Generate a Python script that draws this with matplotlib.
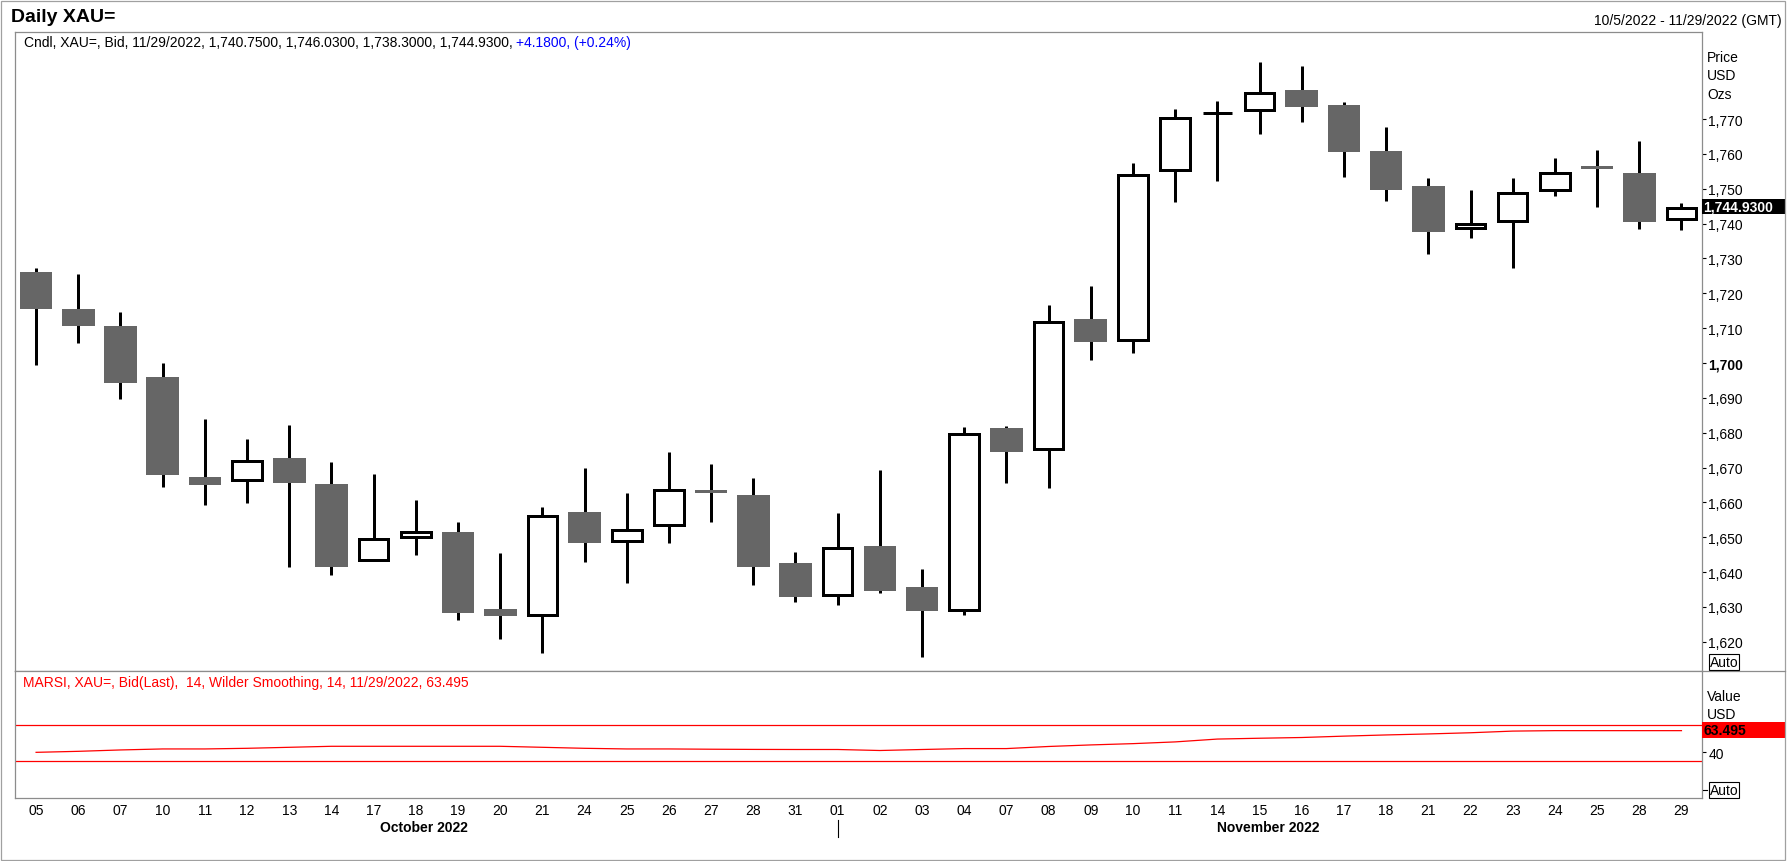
import matplotlib
matplotlib.use("Agg")
import matplotlib.pyplot as plt
import matplotlib.transforms as mtransforms
from matplotlib.patches import Rectangle
from matplotlib.lines import Line2D

plt.rcParams['font.family'] = ['Liberation Sans', 'DejaVu Sans']

# daily XAU= candles, 10/5/2022 - 11/29/2022
day_labels = ['05', '06', '07', '10', '11', '12', '13', '14', '17', '18',
              '19', '20', '21', '24', '25', '26', '27', '28', '31', '01',
              '02', '03', '04', '07', '08', '09', '10', '11', '14', '15',
              '16', '17', '18', '21', '22', '23', '24', '25', '28', '29']
months = ['October 2022'] * 19 + ['November 2022'] * 21
opens = [1726.0, 1715.6, 1710.7, 1695.9, 1667.2, 1666.1, 1672.7, 1665.3, 1643.1, 1649.5,
         1651.5, 1629.4, 1627.2, 1657.1, 1648.6, 1653.0, 1663.6, 1662.1, 1642.6, 1633.1,
         1647.5, 1635.7, 1628.6, 1681.3, 1674.8, 1712.6, 1706.3, 1754.9, 1771.3, 1772.2,
         1778.3, 1774.0, 1760.8, 1750.8, 1738.2, 1740.3, 1749.2, 1756.4, 1754.5, 1740.75]
highs = [1727.4, 1725.4, 1714.5, 1699.9, 1683.8, 1678.1, 1682.1, 1671.5, 1668.1, 1660.7,
         1654.3, 1645.5, 1658.6, 1670.0, 1662.6, 1674.6, 1671.0, 1666.9, 1645.7, 1656.9,
         1669.3, 1640.8, 1681.7, 1681.9, 1716.7, 1722.2, 1757.3, 1772.8, 1775.1, 1786.3,
         1785.2, 1774.8, 1767.6, 1753.0, 1749.6, 1753.2, 1758.7, 1761.2, 1763.6, 1746.03]
lows = [1699.5, 1705.8, 1689.7, 1664.5, 1659.3, 1659.9, 1641.5, 1639.2, 1643.1, 1645.0,
        1626.2, 1620.9, 1616.8, 1643.0, 1636.9, 1648.4, 1654.4, 1636.4, 1631.5, 1630.6,
        1633.9, 1615.5, 1627.6, 1665.6, 1664.0, 1700.9, 1702.8, 1746.3, 1752.3, 1765.8,
        1769.2, 1753.5, 1746.4, 1731.2, 1735.9, 1727.4, 1748.0, 1744.9, 1738.4, 1738.30]
closes = [1715.6, 1710.7, 1694.3, 1667.9, 1665.1, 1672.2, 1665.6, 1641.5, 1650.0, 1652.0,
          1628.3, 1627.5, 1656.4, 1648.4, 1652.4, 1664.1, 1662.8, 1641.5, 1632.9, 1647.3,
          1634.6, 1628.9, 1680.0, 1674.4, 1712.3, 1706.1, 1754.5, 1770.7, 1771.7, 1777.9,
          1773.5, 1760.6, 1749.7, 1737.6, 1740.4, 1749.1, 1755.0, 1755.6, 1740.5, 1744.93]
rsi = [39.8, 40.9, 42.4, 43.5, 43.5, 44.2, 45.3, 46.4, 46.4, 46.4,
       46.4, 46.4, 45.3, 44.2, 43.5, 43.5, 43.2, 43.0, 42.9, 42.9,
       41.8, 42.9, 43.9, 43.9, 46.2, 47.9, 49.3, 51.2, 54.3, 55.2,
       56.0, 57.5, 58.8, 59.9, 61.2, 63.0, 63.5, 63.5, 63.5, 63.495]
rsi_levels = [70, 30]
price_ticks = list(range(1620, 1771, 10))
rsi_ticks = [40]

W, H, DPI = 1788, 862, 100
fig = plt.figure(figsize=(W / DPI, H / DPI), dpi=DPI)
fig.patch.set_facecolor('white')


def fx(px):
    return px / W


def fy(py):
    return 1 - py / H


FRAME = '#8c8c8c'
GRAY = '#666666'
LEFT, RIGHT = 15.0, 1701.7
TOP, MID, BOT = 33.3, 671.7, 799.0
PRICE_LIM = (1611.7, 1794.9)
RSI_LIM = (-10.1, 129.0)
XLIM = (-0.5, 39.48)
LW = 2.16  # 3 px

ax = fig.add_axes([fx(LEFT), fy(MID), fx(RIGHT) - fx(LEFT), (MID - TOP) / H])
ax2 = fig.add_axes([fx(LEFT), fy(BOT), fx(RIGHT) - fx(LEFT), (BOT - MID) / H])

# candles
x = list(range(len(opens)))
half = 1.5 * (PRICE_LIM[1] - PRICE_LIM[0]) / (MID - TOP)
ax.vlines(x, lows, highs, color='black', lw=LW, zorder=2)
for i, (o, c) in enumerate(zip(opens, closes)):
    if c > o:
        b = o + half
        t = max(c - half, b)
        ax.bar(i, t - b, width=0.70, bottom=b, facecolor='white',
               edgecolor='black', lw=LW, zorder=3)
    else:
        ax.bar(i, o - c, width=0.775, bottom=c, color=GRAY, lw=0, zorder=3)

ax.set_xlim(*XLIM)
ax.set_ylim(*PRICE_LIM)
ax.set_xticks([])
ax.yaxis.tick_right()
ax.set_yticks(price_ticks)
ax.set_yticklabels([f'{v:,}' for v in price_ticks])
ax.tick_params(axis='y', length=2.9, width=0.8, pad=1.9, labelsize=10,
               colors='black')
for lab in ax.get_yticklabels():
    if lab.get_text() == '1,700':
        lab.set_fontweight('bold')
for s in ax.spines.values():
    s.set_color(FRAME)
    s.set_linewidth(0.9)

# header text inside price panel
t1 = ax.text((23.7 - LEFT) / (RIGHT - LEFT), 1 - (42.7 - TOP) / (MID - TOP),
             f'Cndl, XAU=, Bid, 11/29/2022, {opens[-1]:,.4f}, {highs[-1]:,.4f}, '
             f'{lows[-1]:,.4f}, {closes[-1]:,.4f}, ',
             transform=ax.transAxes, fontsize=10, va='center', ha='left')
ax.annotate('+4.1800, (+0.24%)', xy=(1, 0), xycoords=t1, va='bottom', ha='left',
            fontsize=10, color='#0000ff')

# last price tag
blend = mtransforms.blended_transform_factory(ax.transAxes, ax.transData)
tag_w = (1785 - LEFT) / (RIGHT - LEFT) - 1
ax.add_patch(Rectangle((1.0, closes[-1] - 2.15), tag_w, 4.3, transform=blend,
                       facecolor='black', edgecolor='none', clip_on=False, zorder=5))
ax.text(1.0 + 1.5 / (RIGHT - LEFT), closes[-1], f'{closes[-1]:,.4f}', transform=blend,
        color='white', fontsize=10, fontweight='bold', va='center', ha='left',
        zorder=6, clip_on=False)

# RSI panel
ax2.plot(x, rsi, color='red', lw=0.9)
for lv in rsi_levels:
    ax2.axhline(lv, color='red', lw=0.9)
ax2.set_xlim(*XLIM)
ax2.set_ylim(*RSI_LIM)
ax2.yaxis.tick_right()
ax2.set_yticks(rsi_ticks)
ax2.set_yticklabels([str(v) for v in rsi_ticks])
ax2.tick_params(axis='y', length=2.9, width=0.8, pad=1.9, labelsize=10,
                colors='black')
ax2.set_xticks(x)
ax2.set_xticklabels(day_labels)
ax2.tick_params(axis='x', length=0, pad=3.6, labelsize=10, colors='black')
for s in ax2.spines.values():
    s.set_color(FRAME)
    s.set_linewidth(0.9)
ax2.text((23.2 - LEFT) / (RIGHT - LEFT), 1 - (682.7 - MID) / (BOT - MID),
         f'MARSI, XAU=, Bid(Last),  14, Wilder Smoothing, 14, 11/29/2022, {rsi[-1]:.3f}',
         transform=ax2.transAxes, color='red', fontsize=10, va='center', ha='left')

rblend = mtransforms.blended_transform_factory(ax2.transAxes, ax2.transData)
ax2.add_patch(Rectangle((1.0, rsi[-1] + 1.0 - 8.7), tag_w, 17.4, transform=rblend,
                        facecolor='red', edgecolor='none', clip_on=False, zorder=5))
ax2.text(1.0 + 1.5 / (RIGHT - LEFT), rsi[-1] + 0.8, f'{rsi[-1]:.3f}', transform=rblend,
         color='black', fontsize=10, fontweight='bold', va='center', ha='left',
         zorder=6, clip_on=False)

# month labels and separator mark
xblend = mtransforms.blended_transform_factory(ax2.transData, ax2.transAxes)
for m in dict.fromkeys(months):
    idx = [i for i, mm in enumerate(months) if mm == m]
    ax2.text(sum(idx) / len(idx) + 0.2, -(828.3 - BOT) / (BOT - MID), m,
             transform=xblend, ha='center', va='center', fontsize=10,
             fontweight='bold')
first_nov = months.index('November 2022')
ax2.add_line(Line2D([first_nov, first_nov],
                    [-(821 - BOT) / (BOT - MID), -(838 - BOT) / (BOT - MID)],
                    transform=xblend, color='black', lw=0.8, clip_on=False))

# title and right-hand labels
fig.text(fx(10.7), fy(17.5), 'Daily XAU=', fontsize=14, fontweight='bold',
         va='center', ha='left')
fig.text(fx(1781.7), fy(21), '10/5/2022 - 11/29/2022 (GMT)', fontsize=10,
         va='center', ha='right')
for lab, yy in [('Price', 58.3), ('USD', 76.3), ('Ozs', 94.7),
                ('Value', 696.7), ('USD', 715.0)]:
    fig.text(fx(1707.3), fy(yy), lab, fontsize=10, va='center', ha='left')
auto_box = dict(boxstyle='square,pad=0.06', facecolor='white', edgecolor='black', lw=0.8)
fig.text(fx(1709.5), fy(663.3), 'Auto', fontsize=10, va='center', ha='left',
         bbox=auto_box)
fig.text(fx(1709.5), fy(790.7), 'Auto', fontsize=10, va='center', ha='left',
         bbox=auto_box)
fig.add_artist(Line2D([fx(1702.7), fx(1706.7)], [fy(790.7)] * 2, color='black', lw=0.8))

# panel separator into the axis area and outer frame
fig.add_artist(Line2D([fx(RIGHT), fx(1785)], [fy(MID)] * 2, color=FRAME, lw=0.9))
fig.add_artist(Rectangle((fx(1.2), fy(860.5)), fx(1784.5) - fx(1.2), fy(1.5) - fy(860.5),
                         transform=fig.transFigure, fill=False, edgecolor='#a0a0a0',
                         lw=0.9))

fig.savefig('out.png', dpi=DPI)
